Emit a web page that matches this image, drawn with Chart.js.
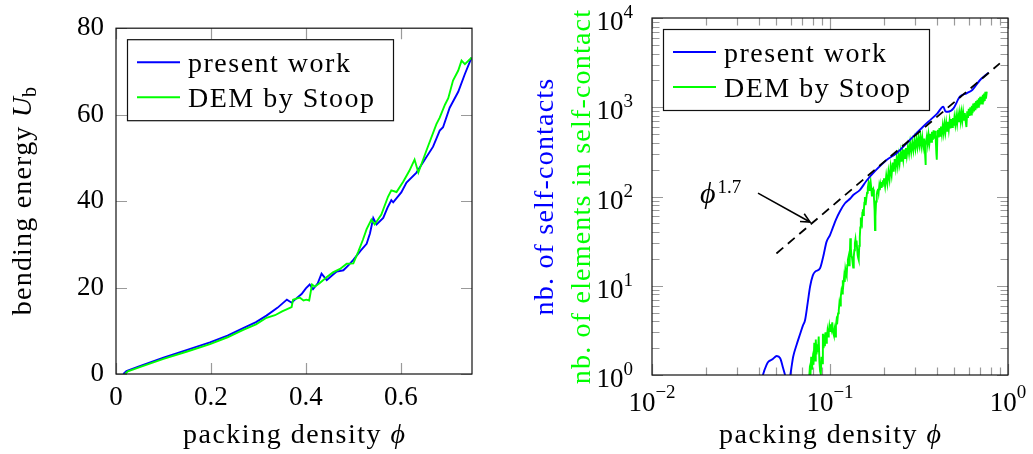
<!DOCTYPE html>
<html><head><meta charset="utf-8">
<script src="https://cdn.jsdelivr.net/npm/chart.js@4.4.0/dist/chart.umd.min.js"></script>
<style>
html,body{margin:0;padding:0;background:#fff;}
#wrap{position:relative;width:1033px;height:454px;overflow:hidden;background:#fff;}
canvas{position:absolute;top:0;}
#cL{left:0;width:530px;height:454px;}
#cR{left:530px;width:503px;height:454px;}
</style></head><body>
<div id="wrap"><canvas id="cL" width="530" height="454"></canvas><canvas id="cR" width="503" height="454"></canvas></div>
<script>
const FONT = "'Liberation Serif','Times New Roman',serif";

// ---------- Left panel: bending energy ----------
const phiL_present = [0.0155,0.022,0.05,0.10,0.15,0.198,0.235,0.268,0.295,0.317,0.340,0.360,0.370,0.380,0.391,0.400,0.408,0.415,0.425,0.433,0.444,0.455,0.465,0.479,0.490,0.500,0.515,0.528,0.535,0.542,0.549,0.563,0.572,0.580,0.584,0.601,0.612,0.633,0.650,0.668,0.682,0.689,0.703,0.721,0.735,0.749];
const UL_present   = [0,0.7,1.8,3.8,5.6,7.3,8.9,10.6,12.0,13.5,15.3,17.2,16.5,17.5,18.5,19.8,20.7,19.6,21.0,23.2,21.7,22.8,23.7,24.0,25.2,26.4,28.5,30.1,32.5,36.1,34.6,36.1,38.5,40.2,39.7,42.0,44.3,46.6,49.5,52.6,56.3,57.1,61.6,65.3,69.4,73.2];
const phiL_dem = [0.019,0.025,0.05,0.10,0.15,0.198,0.235,0.268,0.295,0.317,0.335,0.350,0.370,0.373,0.387,0.395,0.401,0.407,0.413,0.419,0.430,0.445,0.457,0.472,0.486,0.500,0.510,0.520,0.528,0.538,0.545,0.559,0.573,0.580,0.591,0.605,0.618,0.629,0.637,0.655,0.675,0.682,0.693,0.700,0.710,0.721,0.728,0.735,0.749];
const UL_dem   = [0,0.6,1.6,3.5,5.2,6.9,8.5,10.2,11.5,13.0,13.6,14.5,15.5,17.2,17.7,17.0,17.2,17.0,20.7,20.2,21.1,22.5,23.5,24.3,25.5,25.6,28.2,31.0,33.5,35.7,34.6,36.9,41.0,42.5,42.1,44.5,47.0,49.6,46.6,52.0,57.8,59.3,62.3,63.8,67.9,70.2,72.5,71.7,73.2];
const xTicksL = [0,0.2,0.4,0.6];
const xTickLabelsL = ['0','0.2','0.4','0.6'];
const yTicksL = [0,20,40,60,80];
const yTickLabelsL = ['0','20','40','60','80'];

// ---------- Right panel: self-contacts (log-log) ----------
const phiR_present = [0.0405,0.0420,0.0440,0.0451,0.0475,0.0502,0.0525,0.0545,0.0559,0.0575,0.0590,0.0605,0.0621,0.0650,0.0680,0.0705,0.0724,0.0750,0.0773,0.0800,0.0826,0.0879,0.0915,0.0956,0.1000,0.1034,0.1080,0.1136,0.1214,0.1300,0.1351,0.1470,0.1603,0.1800,0.2079,0.2360,0.2806,0.3330,0.3570,0.4000,0.4330,0.4450,0.4600,0.4940,0.5360,0.5850,0.6300,0.6970,0.7300,0.7780];
const NR_present   = [0.7,1.0,1.3,1.41,1.5,1.63,1.54,1.2,1.0,0.8,0.85,1.15,1.6,2.2,2.9,3.6,4.1,6.5,9.8,13,14.4,15.7,21,31,37,44,55,68,84,95,104,118,150,195,257,304,430,605,689,850,1014,900,890,972,1312,1433,1560,2020,2200,2440];
const phiR_dem = [
 0.0760,0.0768,0.0776,0.0784,0.0792,0.0800,0.0808,0.0816,0.0824,0.0832,0.0840,0.0848,0.0856,0.0864,0.0872,0.0880,0.0888,0.0896,0.0904,0.0912,0.0920,0.0928,0.0936,0.0944,0.0952,0.0960,0.0968,0.0976,0.0984,0.0992,0.1000,
 0.1010,0.1020,0.1030,0.1040,0.1050,0.1060,0.1070,0.1080,0.1090,0.1100,0.1110,0.1120,0.1130,0.1140,0.1150,0.1160,0.1170,0.1180,0.1190,0.1200,0.1210,0.1220,0.1230,0.1240,0.1250,0.1260,0.1270,0.1280,0.1290,0.1300,0.1310,0.1320,0.1330,0.1340,0.1350,0.1360,0.1370,0.1380,0.1390,0.1400,0.1410,0.1420,0.1430,0.1440,0.1450,0.1460,0.1470,0.1480,0.1490,0.1500,0.1510,0.1520,0.1530,0.1540,0.1550,0.1560,0.1570,0.1585,0.1600,0.1615,0.1630,0.1645,0.1660,0.1675,0.1690,0.1705,0.1720,0.1735,0.1750,0.1765,0.1780,0.1790,0.1800,0.1815,0.1830,0.1845,0.1860,0.1875,0.1890,0.1905,0.1920,0.1935,0.1950,0.1965,0.1980,0.1995,
 0.2010,0.2040,0.2070,0.2100,0.2130,0.2160,0.2190,0.2220,0.2250,0.2280,0.2310,0.2340,0.2370,0.2400,0.2430,0.2460,0.2490,0.2520,0.2550,0.2580,0.2610,0.2640,0.2670,0.2700,0.2740,0.2780,0.2820,0.2860,0.2900,0.2940,0.2980,0.3020,0.3060,0.3100,0.3140,0.3180,0.3220,0.3260,0.3300,0.3340,0.3380,0.3420,0.3435,0.3460,0.3500,0.3540,0.3580,0.3620,0.3660,0.3700,0.3740,0.3780,0.3820,0.3860,0.3900,0.3930,0.3960,0.3980,0.4010,0.4040,
 0.4080,0.4120,0.4160,0.4200,0.4250,0.4300,0.4350,0.4400,0.4450,0.4500,0.4550,0.4600,0.4650,0.4700,0.4750,0.4800,0.4850,0.4900,0.4950,0.5000,0.5060,0.5120,0.5180,0.5240,0.5300,0.5360,0.5420,0.5480,0.5540,0.5600,0.5660,0.5720,0.5780,0.5840,0.5900,0.5960,0.6020,0.6080,0.6140,0.6200,0.6260,0.6320,0.6380,0.6440,0.6500,0.6560,0.6620,0.6680,0.6740,0.6800,0.6860,0.6920,0.6980,0.7040,0.7100,0.7160,0.7220,0.7280,0.7340,0.7400,0.7460,0.7520,0.7600];
const NR_dem = [
 0.80,1.10,0.95,1.60,1.15,1.50,1.30,2.30,1.45,2.50,1.70,2.20,1.80,2.70,1.40,1.10,1.02,1.60,1.35,2.90,2.00,2.40,2.10,3.00,2.30,2.60,3.10,2.70,3.00,3.50,3.10,
 3.70,3.30,3.90,3.00,2.80,3.20,2.70,3.60,4.20,4.00,4.90,5.30,6.50,6.00,7.60,8.80,8.20,11.5,10.5,12.5,11.0,15.0,13.5,12.8,17.0,19.5,21.0,17.0,19.0,34.0,26.0,22.0,20.5,18.0,16.0,21.0,25.0,30.0,33.0,28.0,32.0,26.0,22.0,20.5,19.5,28.0,35.0,45.0,58.0,52.0,50.0,66.0,72.0,62.0,70.0,85.0,99.0,80.0,95.0,110,125,140,118,135,148,125,100,115,120,98,70,42,60,88,105,115,122,110,130,118,138,128,145,132,152,140,
 160,130,172,140,190,155,215,175,240,190,262,210,270,220,285,235,305,245,318,260,335,270,350,285,365,300,395,315,405,330,425,345,440,360,455,375,470,370,460,365,445,300,225,380,470,385,490,400,505,410,530,430,550,445,545,420,300,258,470,560,
 460,585,480,610,500,625,515,650,530,665,545,690,565,705,580,735,600,760,620,770,640,800,655,825,680,860,700,870,715,880,725,860,700,600,900,760,960,800,1000,830,1040,860,1100,900,1120,930,1170,970,1210,1010,1260,1050,1310,1080,1320,1100,1380,1140,1420,1180,1490,1250,1500];
const phiR_fit = [0.05,0.9];
const NR_fit   = [23,3100];
const xTicksR = [0.01,0.1,1];
const xTickExpR = ['\u22122','\u22121','0'];
const yTicksR = [1,10,100,1000,10000];
const yTickExpR = ['0','1','2','3','4'];
const fitLabelBase = '\u03D5', fitLabelExp = '1.7';
const fitLabelPos = [0.0186,84.6];
const arrowTail = [0.0394,109], arrowTip = [0.0772,51.8];

// ---------- helpers ----------
const pts = (xs, ys) => xs.map((x, i) => ({x, y: ys[i]}));
function minorLog(majors){ const out=[]; for(let i=0;i<majors.length-1;i++){ for(let k=2;k<=9;k++) out.push(majors[i]*k);} return out; }

function drawTicks(chart, xt, yt){
  const {ctx, chartArea:a, scales:{x,y}} = chart;
  ctx.save();
  ctx.strokeStyle='#9a9a9a'; ctx.lineWidth=1.2;
  ctx.beginPath();
  xt.forEach(([v,len])=>{ const p=Math.round(x.getPixelForValue(v))+0.5; ctx.moveTo(p,a.bottom); ctx.lineTo(p,a.bottom-len); ctx.moveTo(p,a.top); ctx.lineTo(p,a.top+len); });
  yt.forEach(([v,len])=>{ const p=Math.round(y.getPixelForValue(v))+0.5; ctx.moveTo(a.left,p); ctx.lineTo(a.left+len,p); ctx.moveTo(a.right,p); ctx.lineTo(a.right-len,p); });
  ctx.stroke(); ctx.restore();
}
function drawFrame(chart){
  const {ctx, chartArea:a} = chart;
  ctx.save(); ctx.strokeStyle='#111'; ctx.lineWidth=1.2;
  ctx.strokeRect(a.left, a.top, a.right-a.left, a.bottom-a.top); ctx.restore();
}
function drawLegend(chart){
  const {ctx, chartArea:a} = chart;
  const items = chart.data.datasets.filter(d=>d.inLegend).sort((p,q)=>p.legendIndex-q.legendIndex);
  const bx=a.left+11, by=a.top+11, bw=266, bh=81;
  ctx.save();
  ctx.fillStyle='#fff'; ctx.fillRect(bx,by,bw,bh);
  ctx.strokeStyle='#111'; ctx.lineWidth=1.2; ctx.strokeRect(bx+0.5,by+0.5,bw,bh);
  items.forEach((d,i)=>{
    const yy = by+23+i*35;
    ctx.strokeStyle=d.borderColor; ctx.lineWidth=1.9; ctx.beginPath(); ctx.moveTo(bx+10,yy); ctx.lineTo(bx+53,yy); ctx.stroke();
    ctx.fillStyle='#000'; ctx.font='28px '+FONT; ctx.letterSpacing='1.5px'; ctx.textAlign='left'; ctx.textBaseline='alphabetic';
    ctx.fillText(d.label, bx+61, yy+9.5);
  });
  ctx.restore();
}
// draw a run of [text, font, dy, color, spacing] pieces centered at (cx, y) in the current transform
function drawRuns(ctx, runs, cx, y){
  let total=0; const ws=runs.map(r=>{ ctx.font=r[1]; ctx.letterSpacing=r[4]||'0px'; const w=ctx.measureText(r[0]).width; total+=w; return w; });
  let x=cx-total/2;
  runs.forEach((r,i)=>{ ctx.font=r[1]; ctx.letterSpacing=r[4]||'0px'; ctx.fillStyle=r[3]||'#000'; ctx.fillText(r[0], x, y+(r[2]||0)); x+=ws[i]; });
}
function xTitle(chart){
  const {ctx, chartArea:a} = chart;
  ctx.save(); ctx.textAlign='left'; ctx.textBaseline='alphabetic';
  drawRuns(ctx, [['packing density ', '28px '+FONT, 0, '#000', '1.5px'], ['\u03D5', 'italic 28px '+FONT, 0, '#000']], (a.left+a.right)/2, 443);
  ctx.restore();
}
function yTitle(chart, runs, bx){
  const {ctx, chartArea:a} = chart;
  ctx.save(); ctx.translate(bx, (a.top+a.bottom)/2); ctx.rotate(-Math.PI/2);
  ctx.textAlign='left'; ctx.textBaseline='alphabetic';
  drawRuns(ctx, runs, 0, 0);
  ctx.restore();
}

Chart.defaults.font.family = FONT;
Chart.defaults.color = '#000';

// ---------- Left chart ----------
new Chart(document.getElementById('cL'), {
  type:'scatter',
  data:{ datasets:[
    {label:'present work', data:pts(phiL_present,UL_present), showLine:true, borderColor:'#0000ff', borderWidth:1.9, pointRadius:0, tension:0, order:1, inLegend:true, legendIndex:0},
    {label:'DEM by Stoop', data:pts(phiL_dem,UL_dem), showLine:true, borderColor:'#00ff00', borderWidth:1.9, pointRadius:0, tension:0, order:0, inLegend:true, legendIndex:1}
  ]},
  options:{
    responsive:false, animation:false, events:[],
    layout:{padding:{left:0,right:58,top:18,bottom:0}},
    plugins:{legend:{display:false}, tooltip:{enabled:false}},
    scales:{
      x:{type:'linear', min:0, max:0.75,
         afterFit:s=>{s.height=80;},
         afterBuildTicks:s=>{s.ticks=xTicksL.map(v=>({value:v}));},
         grid:{display:false, drawTicks:false}, border:{display:false},
         ticks:{font:{size:27, family:FONT}, color:'#000', padding:8, maxRotation:0, autoSkip:false, callback:(v,i)=>xTickLabelsL[i]}},
      y:{type:'linear', min:0, max:80,
         afterFit:s=>{s.width=116;},
         afterBuildTicks:s=>{s.ticks=yTicksL.map(v=>({value:v}));},
         grid:{display:false, drawTicks:false}, border:{display:false},
         ticks:{font:{size:27, family:FONT}, color:'#000', padding:12, autoSkip:false, callback:(v,i)=>yTickLabelsL[i]}}
    }
  },
  plugins:[{id:'decoL',
    beforeDatasetsDraw(c){ drawTicks(c, xTicksL.map(v=>[v,11]), yTicksL.map(v=>[v,11])); },
    afterDatasetsDraw(c){ drawFrame(c); },
    afterDraw(c){
      drawLegend(c); xTitle(c);
      yTitle(c, [['bending energy ', '28px '+FONT, 0, '#000', '1.2px'], ['U', 'italic 28px '+FONT, 0, '#000'], ['b', '20px '+FONT, 5, '#000']], 31);
    }}]
});

// ---------- Right chart ----------
new Chart(document.getElementById('cR'), {
  type:'scatter',
  data:{ datasets:[
    {label:'fit', data:pts(phiR_fit,NR_fit), showLine:true, borderColor:'#000', borderWidth:1.8, borderDash:[9,6], pointRadius:0, order:0, inLegend:false},
    {label:'present work', data:pts(phiR_present,NR_present), showLine:true, borderColor:'#0000ff', borderWidth:1.9, pointRadius:0, cubicInterpolationMode:'monotone', order:1, inLegend:true, legendIndex:0},
    {label:'DEM by Stoop', data:pts(phiR_dem,NR_dem), showLine:true, borderColor:'#00ff00', borderWidth:1.9, pointRadius:0, tension:0, order:2, inLegend:true, legendIndex:1}
  ]},
  options:{
    responsive:false, animation:false, events:[],
    layout:{padding:{left:0,right:25,top:18,bottom:0}},
    plugins:{legend:{display:false}, tooltip:{enabled:false}},
    scales:{
      x:{type:'logarithmic', min:0.01, max:1,
         afterFit:s=>{s.height=79;},
         grid:{display:false, drawTicks:false}, border:{display:false}, ticks:{display:false}},
      y:{type:'logarithmic', min:1, max:10000,
         afterFit:s=>{s.width=122;},
         grid:{display:false, drawTicks:false}, border:{display:false}, ticks:{display:false}}
    }
  },
  plugins:[{id:'decoR',
    beforeDatasetsDraw(c){
      drawTicks(c, xTicksR.map(v=>[v,11]).concat(minorLog(xTicksR).map(v=>[v,7.5])),
                   yTicksR.map(v=>[v,11]).concat(minorLog(yTicksR).map(v=>[v,7.5])));
    },
    afterDatasetsDraw(c){ drawFrame(c); },
    afterDraw(c){
      const {ctx, chartArea:a, scales:{x,y}} = c;
      drawLegend(c); xTitle(c);
      ctx.save(); ctx.fillStyle='#000'; ctx.textBaseline='alphabetic'; ctx.textAlign='left'; ctx.letterSpacing='0px';
      yTicksR.forEach((v,i)=>{
        const py=y.getPixelForValue(v);
        ctx.font='19px '+FONT; const ws=ctx.measureText(yTickExpR[i]).width;
        ctx.font='27px '+FONT; const wb=ctx.measureText('10').width;
        const xe=a.left-19;
        ctx.fillText('10', xe-ws-wb, py+12);
        ctx.font='19px '+FONT; ctx.fillText(yTickExpR[i], xe-ws, py);
      });
      xTicksR.forEach((v,i)=>{
        const px=x.getPixelForValue(v);
        ctx.font='19px '+FONT; const ws=ctx.measureText(xTickExpR[i]).width;
        ctx.font='27px '+FONT; const wb=ctx.measureText('10').width;
        const x0=px-(ws+wb)/2;
        ctx.fillText('10', x0, a.bottom+36);
        ctx.font='19px '+FONT; ctx.fillText(xTickExpR[i], x0+wb, a.bottom+23);
      });
      const tx=x.getPixelForValue(arrowTail[0]), ty=y.getPixelForValue(arrowTail[1]);
      const hx=x.getPixelForValue(arrowTip[0]), hy=y.getPixelForValue(arrowTip[1]);
      ctx.strokeStyle='#000'; ctx.lineWidth=1.6;
      ctx.beginPath(); ctx.moveTo(tx,ty); ctx.lineTo(hx,hy); ctx.stroke();
      const ang=Math.atan2(hy-ty,hx-tx);
      ctx.beginPath();
      ctx.moveTo(hx-10*Math.cos(ang-0.45), hy-10*Math.sin(ang-0.45)); ctx.lineTo(hx,hy);
      ctx.lineTo(hx-10*Math.cos(ang+0.45), hy-10*Math.sin(ang+0.45)); ctx.stroke();
      const lx=x.getPixelForValue(fitLabelPos[0]), ly=y.getPixelForValue(fitLabelPos[1]);
      ctx.font='italic 30px '+FONT; ctx.fillText(fitLabelBase, lx, ly);
      const wphi=ctx.measureText(fitLabelBase).width;
      ctx.font='19px '+FONT; ctx.fillText(fitLabelExp, lx+wphi+2, ly-10);
      ctx.restore();
      yTitle(c, [['nb. of self-contacts', '28px '+FONT, 0, '#0000ff', '1.2px']], 23);
      yTitle(c, [['nb. of elements in self-contact', '28px '+FONT, 0, '#00ff00', '1.2px']], 60);
    }}]
});
</script>
</body></html>
